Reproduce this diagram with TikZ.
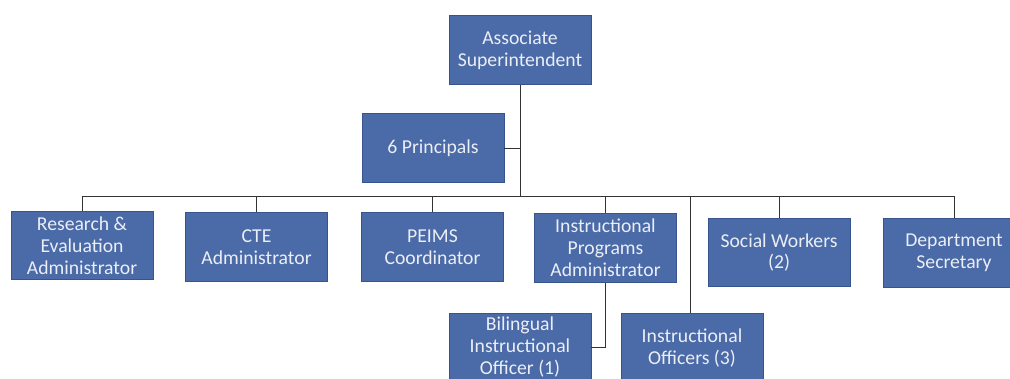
\documentclass[tikz,border=0pt]{standalone}
\usepackage{fontspec}
\setmainfont{Carlito}
\usepackage{xcolor}
\usetikzlibrary{positioning,calc}
\definecolor{boxblue}{RGB}{74,106,168}
\definecolor{boxedge}{RGB}{56,84,140}
\definecolor{boxtext}{RGB}{235,238,245}
\tikzset{
  unit/.style  ={rectangle,draw=boxedge,fill=boxblue,line width=0.6pt,
                 minimum width=3.55cm,minimum height=1.72cm,inner sep=1pt,
                 align=center,text=boxtext,font=\fontsize{14}{15.5}\selectfont},
  link/.style  ={draw=black!80,line width=0.6pt},
}

\begin{document}
\begin{tikzpicture}[x=0.025cm,y=-0.025cm]
  \useasboundingbox (0,0) rectangle (1010,378);
  \node[unit] (sup)   at (520,50)    {Associate\\Superintendent};
  \node[unit] (prin)  at (433,148)   {6 Principals};
  \coordinate (bus) at (520,196);
  \coordinate (iotap) at (690,196);
  \foreach \x/\y/\name/\txt in {82/245.5/res/{Research \&\\Evaluation\\Administrator},
     256.5/247/cte/{CTE\\Administrator},432.5/247/peims/{PEIMS\\Coordinator},
     605.5/248/ipa/{Instructional\\Programs\\Administrator},
     779/252.5/sw/{Social Workers\\(2)},954/253/ds/{Department\\Secretary}}{
     \node[unit] (\name) at (\x,\y) {\txt};
     \draw[link] (\name.north) -- (\name.north |- bus);
  }
  \node[unit,minimum height=1.7cm] (bio) at (520,347) {Bilingual\\Instructional\\Officer (1)};
  \node[unit] (io)    at (692,348)   {Instructional\\Officers (3)};
  \draw[link] (sup.south) -- (bus);
  \draw[link] (prin.east) -- (prin.east -| sup.south);
  \draw[link] (res.north |- bus) -- (ds.north |- bus);
  \draw[link] (iotap) -- (iotap |- io.north);
  \draw[link] (ipa.south) |- (bio.east);
\end{tikzpicture}
\end{document}
